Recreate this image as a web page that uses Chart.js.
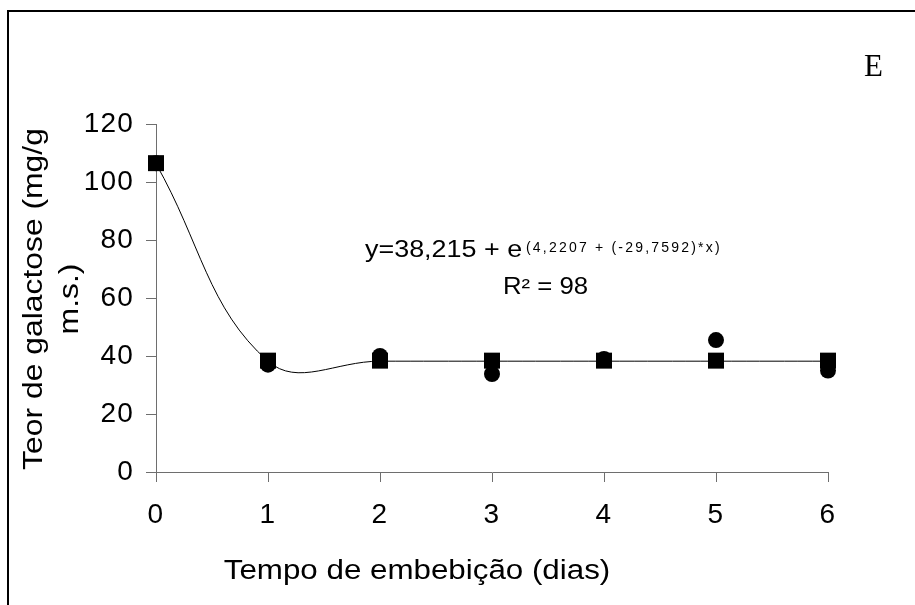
<!DOCTYPE html>
<html>
<head>
<meta charset="utf-8">
<script src="https://cdn.jsdelivr.net/npm/chart.js@4"></script>
<style>
  html, body { margin: 0; padding: 0; background: #fff; overflow: hidden; }
  #grafico { display: block; }
</style>
</head>
<body>
<canvas id="grafico" width="915" height="605"></canvas>
<script>
// Dias de embebição e teores medidos (mg/g m.s.)
const dias = [0, 1, 2, 3, 4, 5, 6];
const teorQuadrado = [106.5, 38.4, 38.4, 38.4, 38.4, 38.4, 38.4];
const teorCirculo = [106.5, 37.0, 40.0, 33.8, 39.0, 45.5, 35.0];
// Curva ajustada: y = 38,215 + e^(4,2207 - 29,7592x)
const teorAjustado = [106.3, 38.215, 38.215, 38.215, 38.215, 38.215, 38.215];
const ticksY = [0, 20, 40, 60, 80, 100, 120];

const fonte = "'Liberation Sans', Arial, sans-serif";
const cinzaEixo = '#6e6e6e';

const pontos = (ys) => dias.map((d, i) => ({ x: d, y: ys[i] }));

// Letras um pouco espaçadas nos rótulos dos eixos
const espacamento = {
  id: 'espacamento',
  beforeUpdate(chart) { chart.ctx.letterSpacing = '1.2px'; },
  beforeDraw(chart) { chart.ctx.letterSpacing = '1.2px'; }
};

// texto esticado na horizontal (fator sx)
function texto(ctx, str, x, y, sx) {
  ctx.save();
  ctx.translate(x, y);
  ctx.scale(sx, 1);
  ctx.fillText(str, 0, 0);
  ctx.restore();
}

// Moldura, rótulo "E", equação e títulos dos eixos
const anotacoes = {
  id: 'anotacoes',
  afterDraw(chart) {
    const ctx = chart.ctx;
    ctx.save();
    ctx.letterSpacing = '0px';
    ctx.strokeStyle = '#000';
    ctx.lineWidth = 2;
    ctx.beginPath();
    ctx.moveTo(8, 605);
    ctx.lineTo(8, 11);
    ctx.lineTo(915, 11);
    ctx.stroke();

    ctx.fillStyle = '#000';
    ctx.textBaseline = 'alphabetic';
    ctx.textAlign = 'left';
    ctx.font = "31px 'Liberation Serif', 'Times New Roman', serif";
    ctx.fillText('E', 864, 76);

    ctx.font = '23px ' + fonte;
    texto(ctx, 'y=38,215 + e', 365, 257, 1.17);
    ctx.letterSpacing = '2.2px';
    ctx.font = '14px ' + fonte;
    ctx.fillText('(4,2207 + (-29,7592)*x)', 526, 252);
    ctx.letterSpacing = '0px';
    ctx.font = '23px ' + fonte;
    texto(ctx, 'R² = 98', 503, 294, 1.12);

    ctx.font = '27px ' + fonte;
    ctx.textAlign = 'center';
    ctx.textBaseline = 'middle';
    texto(ctx, 'Tempo de embebição (dias)', 417, 572, 1.16);

    ctx.save();
    ctx.translate(35, 299);
    ctx.rotate(-Math.PI / 2);
    ctx.scale(1.18, 1);
    ctx.fillText('Teor de galactose (mg/g', 0, 0);
    ctx.fillText('m.s.)', 0, 36);
    ctx.restore();
    ctx.restore();
  }
};

new Chart(document.getElementById('grafico').getContext('2d'), {
  type: 'scatter',
  data: {
    datasets: [
      {
        label: 'Ajuste',
        data: pontos(teorAjustado),
        showLine: true,
        borderColor: '#000',
        borderWidth: 1,
        pointRadius: 0,
        tension: 0.4,
        clip: false,
        order: 3
      },
      {
        label: 'Série 1',
        data: pontos(teorQuadrado),
        pointStyle: 'rect',
        pointRadius: 11.3,
        backgroundColor: '#000',
        borderColor: '#000',
        borderWidth: 0,
        clip: false,
        order: 2
      },
      {
        label: 'Série 2',
        data: pontos(teorCirculo),
        pointStyle: 'circle',
        pointRadius: 8,
        backgroundColor: '#000',
        borderColor: '#000',
        borderWidth: 0,
        clip: false,
        order: 1
      }
    ]
  },
  options: {
    responsive: false,
    animation: false,
    events: [],
    layout: { padding: { left: 0, top: 124, right: 87, bottom: 0 } },
    plugins: {
      legend: { display: false },
      tooltip: { enabled: false }
    },
    scales: {
      x: {
        type: 'linear',
        min: 0,
        max: 6,
        afterFit: (s) => { s.height = 133; },
        ticks: { stepSize: 1, color: '#000', padding: 16, font: { family: fonte, size: 28 } },
        grid: { drawOnChartArea: false, drawTicks: true, tickLength: 10, tickColor: cinzaEixo },
        border: { color: cinzaEixo, width: 1 }
      },
      y: {
        min: 0,
        max: 120,
        afterFit: (s) => { s.width = 156; },
        afterBuildTicks: (s) => { s.ticks = ticksY.map(v => ({ value: v })); },
        ticks: { color: '#000', padding: 12, font: { family: fonte, size: 28 } },
        grid: { drawOnChartArea: false, drawTicks: true, tickLength: 10, tickColor: cinzaEixo },
        border: { color: cinzaEixo, width: 1 }
      }
    }
  },
  plugins: [espacamento, anotacoes]
});
</script>
</body>
</html>
